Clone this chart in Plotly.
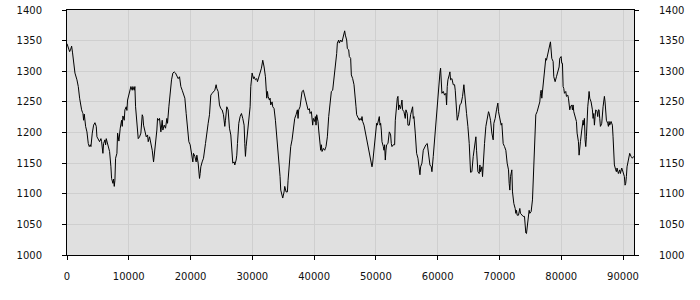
import plotly.graph_objects as go

x_a = [0, 210, 425, 600, 749, 900, 1072, 1288, 1611, 1827, 2042, 2200, 2366, 2500, 2581, 2689, 2797, 3013, 3228, 3444, 3606, 3767, 3875, 4091, 4306, 4522, 4737, 4845, 5061, 5276, 5492, 5600, 5815, 5923, 6139, 6247, 6354, 6570, 6786, 6893, 7109, 7217, 7432, 7540, 7648, 7756, 7864, 8079, 8187, 8295, 8403, 8618, 8834, 8942, 9049, 9265, 9373, 9588, 9696, 9804, 10020, 10235, 10343, 10559, 10666, 10882, 10990]
y_a = [1345, 1338, 1332, 1336, 1341, 1330, 1318, 1297, 1286, 1275, 1256, 1245, 1237, 1233, 1231, 1220, 1230, 1210, 1201, 1182, 1177, 1180, 1177, 1199, 1212, 1216, 1210, 1193, 1190, 1185, 1190, 1185, 1166, 1182, 1188, 1180, 1190, 1180, 1171, 1169, 1144, 1125, 1117, 1124, 1112, 1122, 1158, 1166, 1199, 1188, 1186, 1207, 1220, 1210, 1227, 1220, 1237, 1242, 1236, 1253, 1261, 1269, 1275, 1269, 1275, 1269, 1275]

x_b = [11099, 11314, 11530, 11745, 11961, 12177, 12284, 12392, 12608, 12823, 13039, 13147, 13362, 13578, 13794, 14009, 14225, 14440, 14548, 14656, 14872, 14979, 15195, 15411, 15518, 15734, 15950, 16165, 16273, 16489, 16704, 16920, 17135, 17351, 17567, 17782, 17998, 18213, 18429, 18645, 18860, 19076, 19291, 19507, 19723, 19938, 20154, 20370, 20477, 20693, 20908, 21016, 21232, 21447, 21555, 21663, 21879, 22094]
y_b = [1242, 1212, 1190, 1193, 1199, 1229, 1226, 1212, 1201, 1193, 1196, 1185, 1193, 1182, 1171, 1152, 1171, 1190, 1204, 1223, 1220, 1223, 1201, 1220, 1204, 1212, 1207, 1223, 1215, 1242, 1269, 1286, 1297, 1299, 1297, 1291, 1288, 1291, 1275, 1269, 1261, 1256, 1231, 1212, 1185, 1180, 1166, 1152, 1166, 1161, 1152, 1163, 1150, 1125, 1133, 1144, 1152, 1158]

x_c = [22418, 22633, 22849, 23064, 23172, 23280, 23496, 23711, 23927, 24142, 24250, 24466, 24681, 24897, 25113, 25328, 25544, 25652, 25759, 25867, 26083, 26191, 26298, 26514, 26622, 26730, 26837, 27053, 27161, 27376, 27484, 27592, 27808, 28023, 28239, 28454, 28670, 28778, 28886, 28993, 29209, 29425, 29640, 29748, 29856, 29964, 30179, 30287, 30503, 30718, 30826, 31042, 31257, 31473, 31688, 31796, 31904, 32120, 32227, 32335, 32443, 32551, 32766, 32874, 32982, 33198, 33305]
y_c = [1182, 1204, 1215, 1229, 1259, 1261, 1264, 1267, 1269, 1278, 1272, 1267, 1245, 1239, 1237, 1229, 1210, 1220, 1239, 1242, 1237, 1220, 1207, 1196, 1182, 1161, 1150, 1152, 1147, 1155, 1163, 1182, 1215, 1226, 1231, 1223, 1212, 1182, 1161, 1177, 1199, 1215, 1242, 1275, 1286, 1297, 1288, 1291, 1286, 1288, 1283, 1291, 1297, 1305, 1318, 1313, 1307, 1291, 1275, 1256, 1267, 1259, 1253, 1256, 1245, 1250, 1242]

x_d = [33520, 33736, 33951, 34167, 34275, 34490, 34598, 34814, 34921, 35137, 35245, 35460, 35676, 35784, 35999, 36215, 36431, 36646, 36862, 37077, 37293, 37401, 37509, 37724, 37832, 38048, 38263, 38479, 38694, 38910, 39018, 39233, 39341, 39557, 39665, 39772, 39880, 40096, 40204, 40311, 40419, 40635, 40743, 40850, 40958, 41066, 41174, 41282, 41497, 41713, 41928, 42144, 42360, 42575, 42791, 43006, 43222, 43438, 43653, 43761, 43977, 44084, 44300, 44516, 44731, 44947]
y_d = [1239, 1220, 1196, 1171, 1147, 1128, 1106, 1098, 1093, 1103, 1112, 1103, 1103, 1122, 1152, 1177, 1188, 1210, 1223, 1229, 1237, 1223, 1237, 1242, 1253, 1267, 1269, 1261, 1253, 1242, 1237, 1239, 1231, 1234, 1220, 1212, 1223, 1218, 1226, 1212, 1229, 1218, 1204, 1193, 1180, 1171, 1180, 1169, 1174, 1171, 1177, 1193, 1226, 1248, 1267, 1269, 1288, 1305, 1329, 1346, 1351, 1346, 1351, 1348, 1359, 1366]

x_e = [45056, 45271, 45379, 45595, 45702, 45918, 46026, 46241, 46457, 46673, 46780, 46888, 47104, 47319, 47427, 47643, 47751, 47858, 48074, 48290, 48505, 48721, 48829, 48936, 49152, 49368, 49475, 49691, 49907, 50122, 50230, 50446, 50553, 50661, 50769, 50877, 50985, 51200, 51308, 51416, 51524, 51631, 51739, 51955, 52170, 52278, 52386, 52494, 52602, 52817, 53033, 53141, 53248, 53464, 53572, 53680, 53787, 54003, 54219, 54326, 54542, 54758, 54865, 55081, 55189, 55404, 55620, 55836, 55943, 56051]
y_e = [1359, 1351, 1337, 1335, 1324, 1321, 1294, 1288, 1278, 1259, 1242, 1229, 1223, 1220, 1223, 1220, 1226, 1218, 1212, 1201, 1193, 1180, 1177, 1171, 1158, 1144, 1150, 1171, 1199, 1215, 1212, 1220, 1226, 1212, 1215, 1204, 1185, 1177, 1171, 1180, 1155, 1171, 1180, 1182, 1201, 1199, 1196, 1182, 1177, 1180, 1180, 1220, 1237, 1256, 1259, 1237, 1245, 1239, 1253, 1237, 1234, 1223, 1237, 1231, 1212, 1212, 1229, 1239, 1242, 1223]

x_f = [56160, 56376, 56591, 56807, 57022, 57130, 57238, 57454, 57669, 57885, 58100, 58316, 58532, 58747, 58963, 59071, 59286, 59502, 59717, 59933, 60149, 60364, 60472, 60580, 60688, 60903, 61119, 61334, 61442, 61550, 61658, 61873, 61981, 62089, 62305, 62520, 62736, 62844, 63059, 63167, 63383, 63598, 63814, 64029, 64245, 64461, 64676, 64892, 65107, 65323, 65539, 65754, 65970, 66185, 66293, 66509, 66724, 66832, 66940, 67156, 67263, 67371]
y_f = [1226, 1199, 1166, 1158, 1144, 1131, 1144, 1150, 1171, 1177, 1180, 1182, 1166, 1147, 1144, 1136, 1161, 1190, 1212, 1253, 1283, 1297, 1305, 1283, 1264, 1267, 1261, 1264, 1245, 1275, 1286, 1294, 1299, 1286, 1288, 1278, 1278, 1269, 1237, 1220, 1229, 1245, 1248, 1259, 1278, 1259, 1231, 1210, 1182, 1135, 1136, 1161, 1174, 1193, 1171, 1136, 1133, 1147, 1136, 1144, 1128, 1150]

x_g = [67585, 67800, 68016, 68232, 68339, 68555, 68771, 68986, 69094, 69310, 69525, 69633, 69741, 69849, 70064, 70280, 70388, 70603, 70819, 71035, 71250, 71466, 71573, 71681, 71789, 72005, 72112, 72328, 72544, 72651, 72759, 72867, 73083, 73190, 73298, 73406, 73622, 73837, 74053, 74161, 74268, 74376, 74484, 74592, 74700, 74807, 74915, 75131, 75346, 75454, 75562, 75670, 75778, 75885, 76101, 76317, 76532, 76640, 76748, 76856, 76963, 77179, 77395, 77502, 77610, 77826, 78041, 78257, 78473, 78688]
y_g = [1182, 1210, 1220, 1234, 1231, 1220, 1199, 1188, 1215, 1223, 1237, 1245, 1248, 1234, 1223, 1212, 1215, 1182, 1177, 1171, 1150, 1139, 1117, 1106, 1128, 1139, 1103, 1084, 1076, 1068, 1073, 1065, 1065, 1073, 1076, 1068, 1065, 1063, 1063, 1046, 1036, 1035, 1046, 1054, 1063, 1073, 1068, 1071, 1090, 1117, 1152, 1188, 1215, 1229, 1234, 1242, 1250, 1264, 1269, 1256, 1267, 1283, 1302, 1321, 1318, 1329, 1337, 1348, 1321, 1316]

x_h = [78796, 79012, 79227, 79443, 79658, 79766, 79982, 80090, 80197, 80305, 80413, 80521, 80736, 80844, 81060, 81168, 81275, 81383, 81491, 81707, 81814, 81922, 82030, 82246, 82461, 82569, 82785, 82892, 83000, 83108, 83324, 83431, 83539, 83647, 83755, 83863, 83970, 84078, 84186, 84294, 84402, 84509, 84617, 84833, 85048, 85156, 85264, 85372, 85480, 85587, 85803, 85911, 86019, 86126, 86234, 86342, 86450, 86558, 86773, 86881, 86989, 87097, 87312, 87528, 87636, 87743, 87851, 88067, 88282, 88390, 88498, 88606, 88821, 88929, 89037, 89253, 89360, 89468, 89576, 89792, 89899, 90115, 90223, 90331, 90439, 90546, 90654, 90870, 91085, 91301, 91517, 91732]
y_h = [1291, 1283, 1291, 1299, 1307, 1321, 1324, 1313, 1313, 1275, 1272, 1264, 1267, 1259, 1261, 1256, 1245, 1237, 1242, 1245, 1237, 1245, 1234, 1226, 1218, 1199, 1185, 1163, 1182, 1185, 1204, 1220, 1220, 1212, 1223, 1188, 1177, 1193, 1229, 1242, 1253, 1267, 1256, 1250, 1237, 1223, 1231, 1212, 1226, 1237, 1234, 1226, 1237, 1237, 1223, 1210, 1212, 1215, 1242, 1253, 1259, 1250, 1220, 1215, 1210, 1218, 1212, 1218, 1212, 1193, 1166, 1147, 1139, 1136, 1142, 1133, 1136, 1139, 1133, 1142, 1139, 1133, 1128, 1114, 1117, 1128, 1144, 1155, 1166, 1161, 1158, 1161]

x_vals = x_a + x_b + x_c + x_d + x_e + x_f + x_g + x_h
y_vals = y_a + y_b + y_c + y_d + y_e + y_f + y_g + y_h

y_ticks = [1000, 1050, 1100, 1150, 1200, 1250, 1300, 1350, 1400]
x_ticks = [0, 10000, 20000, 30000, 40000, 50000, 60000, 70000, 80000, 90000]
x_max = 91780

font = dict(family="DejaVu Sans", size=10, color="#111111")

fig = go.Figure()
fig.add_trace(go.Scatter(x=x_vals, y=y_vals, mode="lines",
                         line=dict(color="#000000", width=1), showlegend=False))
fig.add_trace(go.Scatter(x=x_vals, y=y_vals, mode="lines", yaxis="y2",
                         line=dict(color="rgba(0,0,0,0)", width=0), showlegend=False,
                         hoverinfo="skip"))

axis_common = dict(showline=True, linecolor="#000000", linewidth=1,
                   ticks="outside", ticklen=4, tickcolor="#000000", tickwidth=1,
                   gridcolor="#cfcfcf", gridwidth=1, zeroline=False, tickfont=font,
                   automargin=False)

fig.update_layout(
    width=700, height=300,
    margin=dict(l=67, r=66, t=10, b=45, autoexpand=False),
    paper_bgcolor="#ffffff", plot_bgcolor="#e0e0e0",
    xaxis=dict(range=[0, x_max], tickvals=x_ticks, ticktext=[str(v) for v in x_ticks],
               mirror=True, ticklabelstandoff=8, **axis_common),
    yaxis=dict(range=[1000, 1400], tickvals=y_ticks, ticktext=[str(v) for v in y_ticks],
               mirror=True, ticklabelstandoff=18, **axis_common),
    yaxis2=dict(range=[1000, 1400], tickvals=y_ticks, ticktext=[str(v) for v in y_ticks],
                overlaying="y", side="right", showgrid=False, ticklabelstandoff=18,
                **{k: v for k, v in axis_common.items() if k not in ("gridcolor", "gridwidth")}),
)

fig.write_html("out.html")
